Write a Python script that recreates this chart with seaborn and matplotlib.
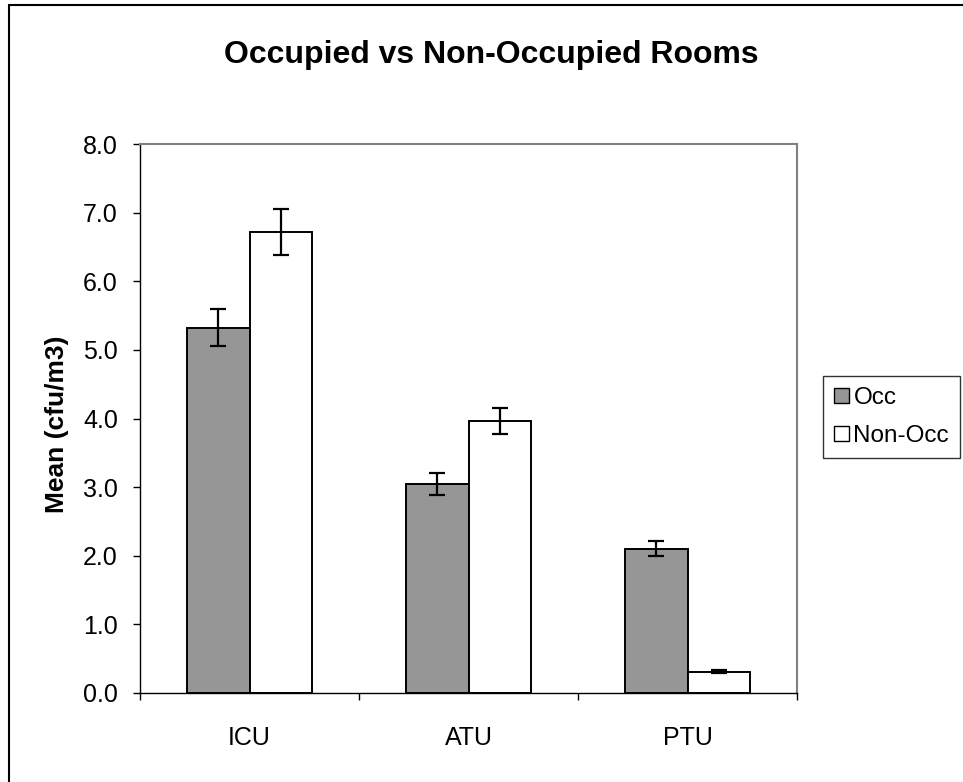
import pandas as pd
import matplotlib.pyplot as plt
import seaborn as sns
from matplotlib.lines import Line2D

# Data
units = ['ICU', 'ATU', 'PTU']
groups = ['Occ', 'Non-Occ']
occ_mean = [5.32, 3.05, 2.10]
occ_err = [0.27, 0.16, 0.11]
nonocc_mean = [6.72, 3.97, 0.31]
nonocc_err = [0.34, 0.19, 0.02]
yticks = [0.0, 1.0, 2.0, 3.0, 4.0, 5.0, 6.0, 7.0, 8.0]

df = pd.DataFrame({
    'unit': units * 2,
    'group': [groups[0]] * 3 + [groups[1]] * 3,
    'mean': occ_mean + nonocc_mean,
})

sns.set_theme(style='white')
plt.rcParams['font.family'] = ['Liberation Sans', 'DejaVu Sans']
plt.rcParams.update({'text.color': 'black', 'axes.labelcolor': 'black',
                     'xtick.color': 'black', 'ytick.color': 'black'})

fig = plt.figure(figsize=(9.63, 7.82), dpi=100)
ax = fig.add_axes([140 / 963, 1 - 693 / 782, 657 / 963, 549 / 782])

sns.barplot(data=df, x='unit', y='mean', hue='group', order=units, hue_order=groups,
            palette=['#969696', '#ffffff'], edgecolor='black', linewidth=1.4,
            width=0.575, errorbar=None, saturation=1, ax=ax)

# error bars at bar centres
for cont, means, errs in zip(ax.containers, [occ_mean, nonocc_mean], [occ_err, nonocc_err]):
    xs = [p.get_x() + p.get_width() / 2 for p in cont]
    ax.errorbar(xs, means, yerr=errs, fmt='none', ecolor='black',
                elinewidth=1.6, capsize=5.5, capthick=1.6)

ax.set_ylim(0, 8)
ax.set_xlim(-0.5, 2.5)
ax.set_yticks(yticks)
ax.set_yticklabels([f'{v:.1f}' for v in yticks], fontsize=18)
ax.set_xticks(range(len(units)))
ax.set_xticklabels(units, fontsize=18)
ax.set_xticks([-0.5, 0.5, 1.5, 2.5], minor=True)
ax.tick_params(axis='x', which='major', length=0, pad=24)
ax.tick_params(axis='x', which='minor', length=5, width=1, direction='out', bottom=True, color='black')
ax.tick_params(axis='y', length=5, width=1, direction='out', left=True, pad=11, color='black')

ax.set_xlabel('')
ax.set_ylabel('Mean (cfu/m3)', fontsize=19, fontweight='bold')
ax.yaxis.set_label_coords(-0.108, 0.49)

for side in ['left', 'bottom']:
    ax.spines[side].set_color('black')
    ax.spines[side].set_linewidth(1)
for side in ['top', 'right']:
    ax.spines[side].set_color('#808080')
    ax.spines[side].set_linewidth(1.5)

leg = ax.legend(loc='center left', bbox_to_anchor=(823 / 963, 1 - 417 / 782),
                bbox_transform=fig.transFigure, frameon=True, fancybox=False,
                edgecolor='black', fontsize=17.5, handlelength=0.6, handleheight=0.6,
                handletextpad=0.2, borderpad=0.45, labelspacing=0.65, borderaxespad=0)
leg.get_frame().set_linewidth(1)
for h in leg.legend_handles:
    h.set_linewidth(1)

fig.text(491 / 963, 1 - 55 / 782, 'Occupied vs Non-Occupied Rooms',
         fontsize=23, fontweight='bold', ha='center', va='center')

# outer chart border (left and top edges are visible)
fig.add_artist(Line2D([9 / 963, 9 / 963], [0, 1 - 5 / 782], transform=fig.transFigure,
                      color='black', lw=1.5))
fig.add_artist(Line2D([9 / 963, 1], [1 - 5 / 782, 1 - 5 / 782], transform=fig.transFigure,
                      color='black', lw=1.5))

fig.savefig('out.png', dpi=100)
